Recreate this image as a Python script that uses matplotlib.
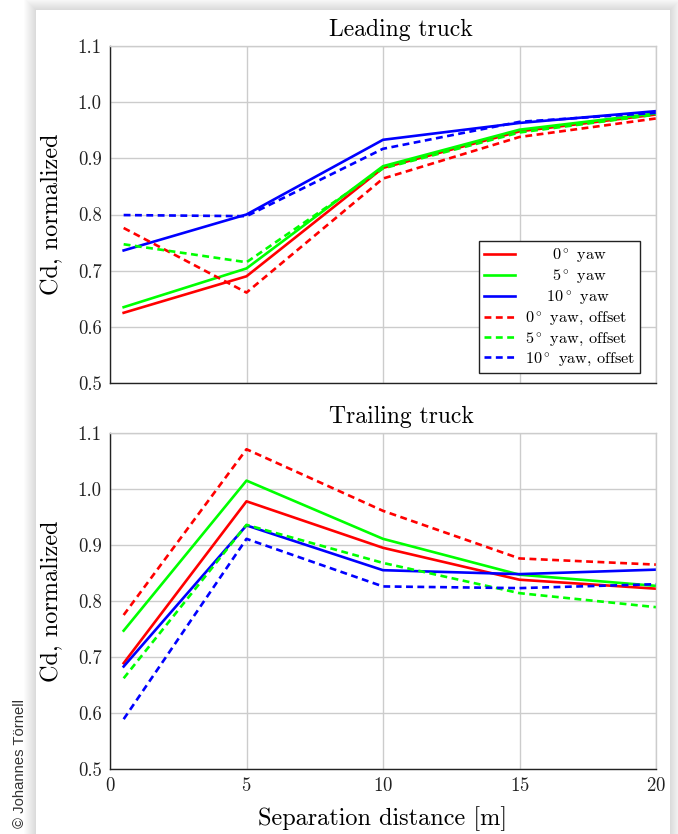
import matplotlib
matplotlib.use("Agg")
import matplotlib.pyplot as plt
from matplotlib.patches import Rectangle

plt.rcParams["font.family"] = "serif"
plt.rcParams["font.serif"] = ["cmr10"]
plt.rcParams["mathtext.fontset"] = "cm"
plt.rcParams["axes.formatter.use_mathtext"] = True

# separation distance [m]
dist = [0.5, 5, 10, 15, 20]

# leading truck, Cd normalized
lead_0 = [0.625, 0.690, 0.883, 0.948, 0.978]
lead_5 = [0.635, 0.704, 0.886, 0.951, 0.980]
lead_10 = [0.736, 0.800, 0.933, 0.963, 0.984]
lead_0_off = [0.776, 0.661, 0.864, 0.938, 0.971]
lead_5_off = [0.747, 0.715, 0.882, 0.946, 0.978]
lead_10_off = [0.799, 0.797, 0.917, 0.965, 0.981]

# trailing truck, Cd normalized
trail_0 = [0.689, 0.978, 0.895, 0.838, 0.822]
trail_5 = [0.747, 1.015, 0.911, 0.847, 0.827]
trail_10 = [0.683, 0.935, 0.855, 0.848, 0.856]
trail_0_off = [0.775, 1.071, 0.961, 0.876, 0.865]
trail_5_off = [0.662, 0.936, 0.868, 0.814, 0.789]
trail_10_off = [0.589, 0.911, 0.826, 0.823, 0.830]

labels = ["$0^\\circ$ yaw", "$5^\\circ$ yaw", "$10^\\circ$ yaw",
          "$0^\\circ$ yaw, offset", "$5^\\circ$ yaw, offset", "$10^\\circ$ yaw, offset"]
pads = [5, 5, 4, 0, 0, 0]
colors = ["#ff0000", "#00ff00", "#0000ff"]

W, H = 678, 834
fig = plt.figure(figsize=(W / 100, H / 100), dpi=100)
fig.patch.set_facecolor("white")

# card shadow + white card
cx0, cy0, cx1, cy1 = 36, 10, 670, 840
for i in range(12, 0, -1):
    fig.patches.append(Rectangle(((cx0 - i) / W, 1 - (cy1 + i) / H),
                                 (cx1 - cx0 + 2 * i) / W, (cy1 - cy0 + 2 * i) / H,
                                 transform=fig.transFigure, facecolor="black",
                                 alpha=0.012, edgecolor="none", zorder=-10))
fig.patches.append(Rectangle((cx0 / W, 1 - cy1 / H), (cx1 - cx0) / W, (cy1 - cy0) / H,
                             transform=fig.transFigure, facecolor="white",
                             edgecolor="none", zorder=-9))

left, right = 110 / W, 656 / W
ax1 = fig.add_axes([left, 1 - 383 / H, right - left, (383 - 46) / H])
ax2 = fig.add_axes([left, 1 - 769 / H, right - left, (769 - 433) / H])


def style(ax, title):
    ax.set_xlim(0, 20)
    ax.set_ylim(0.5, 1.1)
    ax.set_xticks([0, 5, 10, 15, 20])
    ax.set_yticks([0.5, 0.6, 0.7, 0.8, 0.9, 1.0, 1.1])
    ax.yaxis.set_major_formatter(matplotlib.ticker.FormatStrFormatter("%.1f"))
    ax.grid(True, color="#cccccc", lw=1.0)
    ax.set_axisbelow(True)
    ax.tick_params(length=0, labelsize=13.5, pad=6, colors="#222222")
    for s in ["top", "right"]:
        ax.spines[s].set_color("#cccccc")
        ax.spines[s].set_linewidth(1.0)
    for s in ["left", "bottom"]:
        ax.spines[s].set_color("#222222")
        ax.spines[s].set_linewidth(1.0)
    ax.set_title(title, fontsize=17, pad=7, x=0.533)
    ax.set_ylabel("Cd, normalized", fontsize=17.5, labelpad=10)
    ax.patch.set_alpha(0)


def draw(ax, series):
    for i, ys in enumerate(series):
        c = colors[i % 3]
        if i < 3:
            ax.plot(dist, ys, color=c, lw=1.9, label=" " * pads[i] + labels[i])
        else:
            ax.plot(dist, ys, color=c, lw=1.9, dashes=(2.6, 1.7),
                    label=" " * pads[i] + labels[i])


draw(ax1, [lead_0, lead_5, lead_10, lead_0_off, lead_5_off, lead_10_off])
draw(ax2, [trail_0, trail_5, trail_10, trail_0_off, trail_5_off, trail_10_off])
style(ax1, "Leading truck")
style(ax2, "Trailing truck")
ax1.tick_params(labelbottom=False)
ax2.set_xlabel("Separation distance [m]", fontsize=17.5, labelpad=8)

leg = ax1.legend(loc="lower right", bbox_to_anchor=(0.971, 0.03), borderaxespad=0,
                 fontsize=11.7, fancybox=False, framealpha=1, edgecolor="#222222",
                 handlelength=1.9, handletextpad=0.6, labelspacing=0.15, borderpad=0.3)
leg.get_frame().set_linewidth(1.0)

fig.text(20 / W, 1 - 828 / H, "\u00a9 Johannes T\u00f6rnell", rotation=90,
         ha="center", va="bottom", fontsize=10.7, family="Liberation Sans", color="#333333")

fig.savefig("out.png", dpi=100)
